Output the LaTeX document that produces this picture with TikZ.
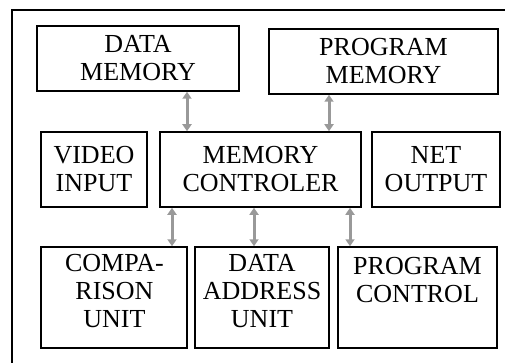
\documentclass[tikz,border=0pt]{standalone}
\usepackage{fontspec}
\setmainfont{Liberation Serif}
\newfontfamily\tnr{Liberation Serif}
\usetikzlibrary{arrows.meta}
\begin{document}
\begin{tikzpicture}[x=1pt,y=-1pt,
  box/.style={draw,line width=1.5pt,rectangle,inner sep=0pt,
    font=\tnr\fontsize{26}{28}\selectfont,align=center},
  txt/.style={inner sep=0pt,font=\tnr\fontsize{26}{28}\selectfont,align=center},
  arr/.style={draw=black!40,line width=3pt,
    {Triangle[length=7pt,width=9pt]}-{Triangle[length=7pt,width=9pt]}}]
\useasboundingbox (0,0) rectangle (505,363);
\draw[line width=1.4pt] (12,363) -- (12,10) -- (505,10);
% top row
\node[box,minimum width=202pt,minimum height=65pt] (dm) at (138,58.5) {DATA\\MEMORY};
\node[box,minimum width=229pt,minimum height=65pt] (pm) at (383.5,61.5) {PROGRAM\\MEMORY};
% middle row
\node[box,minimum width=106pt,minimum height=75pt] (vi) at (94,169.5) {VIDEO\\INPUT};
\node[box,minimum width=201pt,minimum height=75pt] (mc) at (260.5,169.5) {MEMORY\\CONTROLER};
\node[box,minimum width=128pt,minimum height=75pt] (no) at (436,169.5) {NET\\OUTPUT};
% bottom row
\node[box,minimum width=146pt,minimum height=101pt] (cmp) at (114,297.5) {};
\node[box,minimum width=134pt,minimum height=101pt] (dau) at (262,297.5) {};
\node[box,minimum width=159pt,minimum height=101pt] (pc) at (417.5,297.5) {};
\node[txt] (cmpt) at (114.5,291.5) {COMPA-\\RISON\\UNIT};
\node[txt] (daut) at (262,291.5) {DATA\\ADDRESS\\UNIT};
\node[txt] (pct) at (417.5,280.5) {PROGRAM\\CONTROL};
% arrow columns
\coordinate (x1) at (187,0);
\coordinate (x2) at (329,0);
\coordinate (x3) at (172,0);
\coordinate (x4) at (254,0);
\coordinate (x5) at (350,0);
\draw[arr] (x1 |- dm.south) -- (x1 |- mc.north);
\draw[arr] (x2 |- pm.south) -- (x2 |- mc.north);
\draw[arr] (x3 |- mc.south) -- (x3 |- cmp.north);
\draw[arr] (x4 |- mc.south) -- (x4 |- dau.north);
\draw[arr] (x5 |- mc.south) -- (x5 |- pc.north);
\end{tikzpicture}
\end{document}
